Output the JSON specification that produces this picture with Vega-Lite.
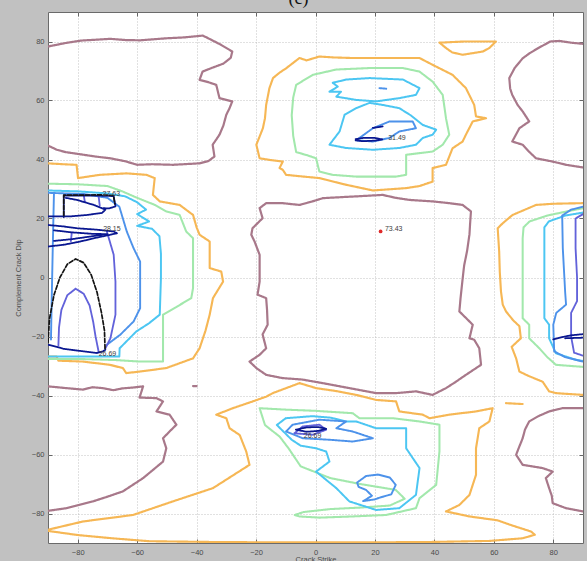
{
  "$schema": "https://vega.github.io/schema/vega-lite/v6.json",
  "width": 535,
  "height": 531,
  "autosize": {"type": "none"},
  "padding": {"left": 48, "top": 12, "right": 4, "bottom": 18},
  "background": "#c1c1c1",
  "title": {"text": "(c)", "font": "Liberation Serif", "fontSize": 18, "fontWeight": "normal", "color": "#111111", "offset": 4, "dx": -17, "anchor": "middle"},
  "config": {
    "view": {"fill": "white", "stroke": "#6a6a6a", "strokeWidth": 1},
    "axis": {
      "labelFont": "Liberation Sans",
      "labelFontSize": 7.5,
      "labelColor": "#4a4a4a",
      "titleFont": "Liberation Sans",
      "titleFontSize": 7.5,
      "titleFontWeight": "normal",
      "titleColor": "#4a4a4a",
      "tickColor": "#666666",
      "domain": false,
      "gridColor": "#b4b4b4",
      "gridDash": [1, 2],
      "gridWidth": 0.8
    }
  },
  "datasets": {
    "contours": [
      {"c":"M1","l":"m","x":-90,"y":78.3},{"c":"M1","l":"m","x":-84,"y":79.5},{"c":"M1","l":"m","x":-79,"y":80.3},{"c":"M1","l":"m","x":-69,"y":80.9},{"c":"M1","l":"m","x":-64,"y":80.5},{"c":"M1","l":"m","x":-59,"y":80.4},{"c":"M1","l":"m","x":-50,"y":81.1},{"c":"M1","l":"m","x":-44,"y":81.4},{"c":"M1","l":"m","x":-38,"y":82},{"c":"M1","l":"m","x":-36.5,"y":81.3},{"c":"M1","l":"m","x":-32,"y":79},{"c":"M1","l":"m","x":-28,"y":76.6},{"c":"M1","l":"m","x":-28.5,"y":74.5},{"c":"M1","l":"m","x":-31,"y":72.5},{"c":"M1","l":"m","x":-35,"y":71},{"c":"M1","l":"m","x":-38,"y":69.8},{"c":"M1","l":"m","x":-39,"y":67},{"c":"M1","l":"m","x":-36,"y":66.2},{"c":"M1","l":"m","x":-33.4,"y":65.3},{"c":"M1","l":"m","x":-32.3,"y":60.8},{"c":"M1","l":"m","x":-28,"y":59.7},{"c":"M1","l":"m","x":-29,"y":57.2},{"c":"M1","l":"m","x":-30,"y":55.2},{"c":"M1","l":"m","x":-31,"y":51.5},{"c":"M1","l":"m","x":-32.3,"y":48.4},{"c":"M1","l":"m","x":-34.6,"y":45},{"c":"M1","l":"m","x":-34,"y":41},{"c":"M1","l":"m","x":-36,"y":39.5},{"c":"M1","l":"m","x":-39,"y":38.7},{"c":"M1","l":"m","x":-48,"y":38.2},{"c":"M1","l":"m","x":-55,"y":38.4},{"c":"M1","l":"m","x":-60,"y":38.2},{"c":"M1","l":"m","x":-64,"y":39.4},{"c":"M1","l":"m","x":-69,"y":40.4},{"c":"M1","l":"m","x":-74,"y":41},{"c":"M1","l":"m","x":-78,"y":41.6},{"c":"M1","l":"m","x":-84,"y":42.5},{"c":"M1","l":"m","x":-87,"y":43.3},{"c":"M1","l":"m","x":-90,"y":44.7},

      {"c":"M2","l":"m","x":90,"y":79.2},{"c":"M2","l":"m","x":86,"y":79.6},{"c":"M2","l":"m","x":82,"y":80.2},{"c":"M2","l":"m","x":79,"y":80},{"c":"M2","l":"m","x":75,"y":77.8},{"c":"M2","l":"m","x":72,"y":76},{"c":"M2","l":"m","x":69.7,"y":74.3},{"c":"M2","l":"m","x":67,"y":71},{"c":"M2","l":"m","x":65.2,"y":67.6},{"c":"M2","l":"m","x":65.5,"y":64},{"c":"M2","l":"m","x":66.2,"y":61.9},{"c":"M2","l":"m","x":68,"y":58.5},{"c":"M2","l":"m","x":69.7,"y":56.3},{"c":"M2","l":"m","x":71.9,"y":52.9},{"c":"M2","l":"m","x":68.6,"y":50.6},{"c":"M2","l":"m","x":66.2,"y":46.1},{"c":"M2","l":"m","x":69.7,"y":45},{"c":"M2","l":"m","x":72,"y":42.5},{"c":"M2","l":"m","x":74.2,"y":40.4},{"c":"M2","l":"m","x":79.8,"y":39.3},{"c":"M2","l":"m","x":84.3,"y":38.2},{"c":"M2","l":"m","x":90,"y":37.3},

      {"c":"M3","l":"m","x":-18.8,"y":23.5},{"c":"M3","l":"m","x":-16.6,"y":25.2},{"c":"M3","l":"m","x":-11.1,"y":25.2},{"c":"M3","l":"m","x":-5.4,"y":24.6},{"c":"M3","l":"m","x":-1,"y":25.8},{"c":"M3","l":"m","x":2.5,"y":26.9},{"c":"M3","l":"m","x":8,"y":27.2},{"c":"M3","l":"m","x":13.7,"y":27.5},{"c":"M3","l":"m","x":22.6,"y":28},{"c":"M3","l":"m","x":27,"y":27},{"c":"M3","l":"m","x":31.6,"y":26.3},{"c":"M3","l":"m","x":39.4,"y":25.8},{"c":"M3","l":"m","x":45,"y":25.2},{"c":"M3","l":"m","x":49.5,"y":24.6},{"c":"M3","l":"m","x":52.3,"y":22.4},{"c":"M3","l":"m","x":52,"y":18},{"c":"M3","l":"m","x":51.8,"y":14.6},{"c":"M3","l":"m","x":51,"y":9},{"c":"M3","l":"m","x":50,"y":4},{"c":"M3","l":"m","x":49.4,"y":-1.4},{"c":"M3","l":"m","x":48.8,"y":-7},{"c":"M3","l":"m","x":48.4,"y":-11.5},{"c":"M3","l":"m","x":49.5,"y":-12.6},{"c":"M3","l":"m","x":52.9,"y":-16},{"c":"M3","l":"m","x":51.8,"y":-20.6},{"c":"M3","l":"m","x":53.4,"y":-21.1},{"c":"M3","l":"m","x":55.1,"y":-24},{"c":"M3","l":"m","x":55.7,"y":-29.6},{"c":"M3","l":"m","x":50.6,"y":-33},{"c":"M3","l":"m","x":47,"y":-35.5},{"c":"M3","l":"m","x":43.9,"y":-37.5},{"c":"M3","l":"m","x":39.4,"y":-39.8},{"c":"M3","l":"m","x":33.8,"y":-38.6},{"c":"M3","l":"m","x":27.1,"y":-39.2},{"c":"M3","l":"m","x":20.4,"y":-39.2},{"c":"M3","l":"m","x":11.4,"y":-37.5},{"c":"M3","l":"m","x":2.4,"y":-35.8},{"c":"M3","l":"m","x":-4.4,"y":-34.6},{"c":"M3","l":"m","x":-11.1,"y":-34.1},{"c":"M3","l":"m","x":-16.6,"y":-33},{"c":"M3","l":"m","x":-19.9,"y":-30.7},{"c":"M3","l":"m","x":-22.2,"y":-28.5},{"c":"M3","l":"m","x":-18.8,"y":-26.2},{"c":"M3","l":"m","x":-16.6,"y":-24},{"c":"M3","l":"m","x":-17.8,"y":-19.3},{"c":"M3","l":"m","x":-16.1,"y":-16},{"c":"M3","l":"m","x":-16.3,"y":-11},{"c":"M3","l":"m","x":-16.6,"y":-7},{"c":"M3","l":"m","x":-19.5,"y":-5.8},{"c":"M3","l":"m","x":-18.8,"y":-1.4},{"c":"M3","l":"m","x":-18.8,"y":3.2},{"c":"M3","l":"m","x":-18.8,"y":7.7},{"c":"M3","l":"m","x":-20.5,"y":12.2},{"c":"M3","l":"m","x":-21.6,"y":14.5},{"c":"M3","l":"m","x":-21.2,"y":16.7},{"c":"M3","l":"m","x":-17.8,"y":20.1},{"c":"M3","l":"m","x":-18.8,"y":23.5},

      {"c":"M4","l":"m","x":-90,"y":-36.9},{"c":"M4","l":"m","x":-83.8,"y":-37.5},{"c":"M4","l":"m","x":-78.3,"y":-38},{"c":"M4","l":"m","x":-75,"y":-37.2},{"c":"M4","l":"m","x":-71.6,"y":-37.5},{"c":"M4","l":"m","x":-68,"y":-38.2},{"c":"M4","l":"m","x":-65,"y":-37.6},{"c":"M4","l":"m","x":-61.4,"y":-37.3},{"c":"M4","l":"m","x":-58,"y":-36.9},{"c":"M4","l":"m","x":-59.2,"y":-40.7},{"c":"M4","l":"m","x":-53.5,"y":-40.9},{"c":"M4","l":"m","x":-51.3,"y":-42},{"c":"M4","l":"m","x":-53.5,"y":-45.4},{"c":"M4","l":"m","x":-49.1,"y":-46.5},{"c":"M4","l":"m","x":-46.8,"y":-49.9},{"c":"M4","l":"m","x":-49.1,"y":-52.2},{"c":"M4","l":"m","x":-51.3,"y":-54.5},{"c":"M4","l":"m","x":-50.2,"y":-57.9},{"c":"M4","l":"m","x":-51.3,"y":-62.4},{"c":"M4","l":"m","x":-55,"y":-65.5},{"c":"M4","l":"m","x":-58,"y":-68},{"c":"M4","l":"m","x":-64.8,"y":-72.5},{"c":"M4","l":"m","x":-70,"y":-74.3},{"c":"M4","l":"m","x":-74.9,"y":-75.9},{"c":"M4","l":"m","x":-83.8,"y":-78.2},{"c":"M4","l":"m","x":-90,"y":-79.1},

      {"c":"M5","l":"m","x":90,"y":-44.3},{"c":"M5","l":"m","x":83.1,"y":-44.3},{"c":"M5","l":"m","x":78.6,"y":-45.4},{"c":"M5","l":"m","x":75,"y":-47},{"c":"M5","l":"m","x":71.9,"y":-48.8},{"c":"M5","l":"m","x":70.5,"y":-51.5},{"c":"M5","l":"m","x":69.7,"y":-54.5},{"c":"M5","l":"m","x":68.5,"y":-57.5},{"c":"M5","l":"m","x":67.5,"y":-60.1},{"c":"M5","l":"m","x":69.7,"y":-63.5},{"c":"M5","l":"m","x":76.4,"y":-64.6},{"c":"M5","l":"m","x":79.8,"y":-65.8},{"c":"M5","l":"m","x":77.5,"y":-68},{"c":"M5","l":"m","x":78.6,"y":-71.4},{"c":"M5","l":"m","x":79.5,"y":-74},{"c":"M5","l":"m","x":79.8,"y":-76.5},{"c":"M5","l":"m","x":84.3,"y":-78.2},{"c":"M5","l":"m","x":90,"y":-79.3},

      {"c":"M6","l":"m","x":-41.2,"y":-36.8},{"c":"M6","l":"m","x":-40,"y":-36.8},

      {"c":"O1","l":"o","x":-14.3,"y":67.6},{"c":"O1","l":"o","x":-12,"y":69.5},{"c":"O1","l":"o","x":-9.9,"y":70.9},{"c":"O1","l":"o","x":-5.4,"y":74.4},{"c":"O1","l":"o","x":-3,"y":73.6},{"c":"O1","l":"o","x":1.3,"y":74.9},{"c":"O1","l":"o","x":6,"y":74.6},{"c":"O1","l":"o","x":12.5,"y":74.4},{"c":"O1","l":"o","x":23.8,"y":74.4},{"c":"O1","l":"o","x":35,"y":74.4},{"c":"O1","l":"o","x":39.4,"y":72.1},{"c":"O1","l":"o","x":46.1,"y":68.7},{"c":"O1","l":"o","x":50.6,"y":64.2},{"c":"O1","l":"o","x":53.4,"y":58.5},{"c":"O1","l":"o","x":54,"y":54.6},{"c":"O1","l":"o","x":57.4,"y":54},{"c":"O1","l":"o","x":52.9,"y":52.9},{"c":"O1","l":"o","x":50.6,"y":48.4},{"c":"O1","l":"o","x":49.5,"y":46.1},{"c":"O1","l":"o","x":46.1,"y":43.8},{"c":"O1","l":"o","x":45,"y":41},{"c":"O1","l":"o","x":43.9,"y":38.2},{"c":"O1","l":"o","x":39.4,"y":37.1},{"c":"O1","l":"o","x":39.4,"y":32.5},{"c":"O1","l":"o","x":35,"y":31},{"c":"O1","l":"o","x":30.5,"y":30.3},{"c":"O1","l":"o","x":19.3,"y":29.5},{"c":"O1","l":"o","x":10,"y":31.5},{"c":"O1","l":"o","x":1.3,"y":33.7},{"c":"O1","l":"o","x":-5,"y":34.3},{"c":"O1","l":"o","x":-9.9,"y":34.8},{"c":"O1","l":"o","x":-11,"y":36.5},{"c":"O1","l":"o","x":-12.1,"y":37.1},{"c":"O1","l":"o","x":-11,"y":39.3},{"c":"O1","l":"o","x":-15,"y":39.8},{"c":"O1","l":"o","x":-18.8,"y":40.4},{"c":"O1","l":"o","x":-19.9,"y":45},{"c":"O1","l":"o","x":-17.7,"y":50.6},{"c":"O1","l":"o","x":-17,"y":54},{"c":"O1","l":"o","x":-16.6,"y":58.5},{"c":"O1","l":"o","x":-15.5,"y":64.2},{"c":"O1","l":"o","x":-14.3,"y":67.6},

      {"c":"O2","l":"o","x":41.7,"y":79.6},{"c":"O2","l":"o","x":50,"y":80},{"c":"O2","l":"o","x":60.7,"y":80},{"c":"O2","l":"o","x":58.5,"y":77.8},{"c":"O2","l":"o","x":56.3,"y":76.6},{"c":"O2","l":"o","x":49.5,"y":75.5},{"c":"O2","l":"o","x":46,"y":76.3},{"c":"O2","l":"o","x":43.9,"y":77.8},{"c":"O2","l":"o","x":41.7,"y":79.6},

      {"c":"O3","l":"o","x":-90,"y":38.7},{"c":"O3","l":"o","x":-85,"y":38.4},{"c":"O3","l":"o","x":-80.4,"y":38.2},{"c":"O3","l":"o","x":-79.9,"y":33.7},{"c":"O3","l":"o","x":-72.6,"y":34.8},{"c":"O3","l":"o","x":-63.6,"y":35.3},{"c":"O3","l":"o","x":-56.9,"y":34.8},{"c":"O3","l":"o","x":-54.1,"y":33.7},{"c":"O3","l":"o","x":-54.7,"y":28},{"c":"O3","l":"o","x":-52.4,"y":25.8},{"c":"O3","l":"o","x":-45.7,"y":24.6},{"c":"O3","l":"o","x":-41.2,"y":21.2},{"c":"O3","l":"o","x":-40,"y":17},{"c":"O3","l":"o","x":-39,"y":14.5},{"c":"O3","l":"o","x":-35.6,"y":12.2},{"c":"O3","l":"o","x":-35.6,"y":3.2},{"c":"O3","l":"o","x":-31.7,"y":2},{"c":"O3","l":"o","x":-31.1,"y":-1.4},{"c":"O3","l":"o","x":-34.5,"y":-7},{"c":"O3","l":"o","x":-35.6,"y":-12.6},{"c":"O3","l":"o","x":-37,"y":-18},{"c":"O3","l":"o","x":-39,"y":-24},{"c":"O3","l":"o","x":-41.2,"y":-27.4},{"c":"O3","l":"o","x":-50.2,"y":-30.7},{"c":"O3","l":"o","x":-59.2,"y":-31.9},{"c":"O3","l":"o","x":-63.7,"y":-32.4},{"c":"O3","l":"o","x":-64.8,"y":-30.7},{"c":"O3","l":"o","x":-69.2,"y":-29.6},{"c":"O3","l":"o","x":-78.2,"y":-28.5},{"c":"O3","l":"o","x":-86.5,"y":-28.2},{"c":"O3","l":"o","x":-87.1,"y":-26.8},{"c":"O3","l":"o","x":-90,"y":-26.8},

      {"c":"O4","l":"o","x":-90,"y":-85.5},{"c":"O4","l":"o","x":-78.2,"y":-82.7},{"c":"O4","l":"o","x":-61.4,"y":-80.5},{"c":"O4","l":"o","x":-48,"y":-75.9},{"c":"O4","l":"o","x":-34.5,"y":-71.4},{"c":"O4","l":"o","x":-22.2,"y":-63.5},{"c":"O4","l":"o","x":-23.3,"y":-59},{"c":"O4","l":"o","x":-25.5,"y":-53.4},{"c":"O4","l":"o","x":-28.9,"y":-51.1},{"c":"O4","l":"o","x":-30,"y":-47.7},{"c":"O4","l":"o","x":-33.4,"y":-46.5},{"c":"O4","l":"o","x":-27.8,"y":-44.3},{"c":"O4","l":"o","x":-21.1,"y":-42},{"c":"O4","l":"o","x":-16.6,"y":-40.4},{"c":"O4","l":"o","x":-14.4,"y":-39.2},{"c":"O4","l":"o","x":-9.9,"y":-37.5},{"c":"O4","l":"o","x":-5.4,"y":-35.8},{"c":"O4","l":"o","x":0.2,"y":-37.5},{"c":"O4","l":"o","x":7,"y":-38.5},{"c":"O4","l":"o","x":13.7,"y":-39.8},{"c":"O4","l":"o","x":20.4,"y":-41.5},{"c":"O4","l":"o","x":27.1,"y":-42},{"c":"O4","l":"o","x":28.2,"y":-45.4},{"c":"O4","l":"o","x":36.1,"y":-46.5},{"c":"O4","l":"o","x":38.4,"y":-47.7},{"c":"O4","l":"o","x":45,"y":-46.5},{"c":"O4","l":"o","x":54,"y":-45.4},{"c":"O4","l":"o","x":59.6,"y":-44.3},{"c":"O4","l":"o","x":58.5,"y":-48.8},{"c":"O4","l":"o","x":55.1,"y":-51.1},{"c":"O4","l":"o","x":54,"y":-57.9},{"c":"O4","l":"o","x":54,"y":-66.9},{"c":"O4","l":"o","x":51.8,"y":-73.7},{"c":"O4","l":"o","x":48.4,"y":-77.1},{"c":"O4","l":"o","x":43.9,"y":-79.3},{"c":"O4","l":"o","x":51.8,"y":-81},{"c":"O4","l":"o","x":61.2,"y":-82.3},{"c":"O4","l":"o","x":66,"y":-84},{"c":"O4","l":"o","x":72.5,"y":-86.1},{"c":"O4","l":"o","x":73.8,"y":-87.2},{"c":"O4","l":"o","x":69.7,"y":-88.4},{"c":"O4","l":"o","x":58.5,"y":-89.3},{"c":"O4","l":"o","x":36,"y":-89.7},{"c":"O4","l":"o","x":0,"y":-89.8},{"c":"O4","l":"o","x":-30.7,"y":-89.7},{"c":"O4","l":"o","x":-55.9,"y":-89.4},{"c":"O4","l":"o","x":-68.4,"y":-88.4},{"c":"O4","l":"o","x":-80,"y":-87.3},{"c":"O4","l":"o","x":-90,"y":-85.9},

      {"c":"O5","l":"o","x":90,"y":25.2},{"c":"O5","l":"o","x":80,"y":25},{"c":"O5","l":"o","x":74.2,"y":24.6},{"c":"O5","l":"o","x":66.3,"y":21.2},{"c":"O5","l":"o","x":63,"y":18.4},{"c":"O5","l":"o","x":61.3,"y":16.7},{"c":"O5","l":"o","x":61.8,"y":8.8},{"c":"O5","l":"o","x":62,"y":2},{"c":"O5","l":"o","x":62.4,"y":-4.7},{"c":"O5","l":"o","x":63,"y":-9.2},{"c":"O5","l":"o","x":64.1,"y":-11.5},{"c":"O5","l":"o","x":66.5,"y":-14.5},{"c":"O5","l":"o","x":68.6,"y":-16.5},{"c":"O5","l":"o","x":69.1,"y":-20.6},{"c":"O5","l":"o","x":66,"y":-23.5},{"c":"O5","l":"o","x":67.5,"y":-27.4},{"c":"O5","l":"o","x":68.6,"y":-31.9},{"c":"O5","l":"o","x":72,"y":-33.5},{"c":"O5","l":"o","x":76.4,"y":-35.3},{"c":"O5","l":"o","x":78.6,"y":-38.6},{"c":"O5","l":"o","x":80.9,"y":-39.2},{"c":"O5","l":"o","x":90,"y":-39.8},

      {"c":"O6","l":"o","x":64.1,"y":-42.6},{"c":"O6","l":"o","x":69.7,"y":-42.9},

      {"c":"G1","l":"g","x":-6.5,"y":65.3},{"c":"G1","l":"g","x":-0.9,"y":68.7},{"c":"G1","l":"g","x":7,"y":70.5},{"c":"G1","l":"g","x":18.2,"y":71},{"c":"G1","l":"g","x":29.4,"y":71},{"c":"G1","l":"g","x":35,"y":69.8},{"c":"G1","l":"g","x":39.4,"y":66.4},{"c":"G1","l":"g","x":42.8,"y":61.9},{"c":"G1","l":"g","x":43.9,"y":54},{"c":"G1","l":"g","x":45,"y":48.4},{"c":"G1","l":"g","x":42.8,"y":45},{"c":"G1","l":"g","x":39.4,"y":42.7},{"c":"G1","l":"g","x":30.5,"y":41.6},{"c":"G1","l":"g","x":30.5,"y":34.8},{"c":"G1","l":"g","x":27.1,"y":34.2},{"c":"G1","l":"g","x":13.7,"y":34.2},{"c":"G1","l":"g","x":5.8,"y":34.8},{"c":"G1","l":"g","x":1.3,"y":35.9},{"c":"G1","l":"g","x":0.2,"y":40.4},{"c":"G1","l":"g","x":-3,"y":41.5},{"c":"G1","l":"g","x":-6.5,"y":42.5},{"c":"G1","l":"g","x":-7.5,"y":48},{"c":"G1","l":"g","x":-8,"y":55},{"c":"G1","l":"g","x":-7.5,"y":61},{"c":"G1","l":"g","x":-6.5,"y":65.3},

      {"c":"G2","l":"g","x":-90,"y":31.8},{"c":"G2","l":"g","x":-80,"y":31.6},{"c":"G2","l":"g","x":-70,"y":31},{"c":"G2","l":"g","x":-65,"y":29.2},{"c":"G2","l":"g","x":-60,"y":27},{"c":"G2","l":"g","x":-54,"y":24.6},{"c":"G2","l":"g","x":-50.2,"y":22.4},{"c":"G2","l":"g","x":-45.7,"y":21.2},{"c":"G2","l":"g","x":-43.5,"y":15.6},{"c":"G2","l":"g","x":-41.2,"y":13.3},{"c":"G2","l":"g","x":-41.2,"y":5},{"c":"G2","l":"g","x":-41.2,"y":-3.6},{"c":"G2","l":"g","x":-41.8,"y":-7},{"c":"G2","l":"g","x":-46,"y":-9.5},{"c":"G2","l":"g","x":-51.3,"y":-12.6},{"c":"G2","l":"g","x":-51.3,"y":-20},{"c":"G2","l":"g","x":-51.3,"y":-28.5},{"c":"G2","l":"g","x":-59,"y":-28.5},{"c":"G2","l":"g","x":-67,"y":-28},{"c":"G2","l":"g","x":-80,"y":-27.6},{"c":"G2","l":"g","x":-90,"y":-27.6},

      {"c":"G3","l":"g","x":-18.8,"y":-44.3},{"c":"G3","l":"g","x":-9.9,"y":-44.8},{"c":"G3","l":"g","x":0,"y":-45.2},{"c":"G3","l":"g","x":12.5,"y":-46},{"c":"G3","l":"g","x":14.8,"y":-47.7},{"c":"G3","l":"g","x":26,"y":-47.7},{"c":"G3","l":"g","x":35,"y":-48.8},{"c":"G3","l":"g","x":41.7,"y":-49.9},{"c":"G3","l":"g","x":41.7,"y":-59},{"c":"G3","l":"g","x":40.6,"y":-70.3},{"c":"G3","l":"g","x":35,"y":-74.8},{"c":"G3","l":"g","x":33.8,"y":-78.2},{"c":"G3","l":"g","x":23.8,"y":-80.5},{"c":"G3","l":"g","x":12.5,"y":-81},{"c":"G3","l":"g","x":1.3,"y":-81.4},{"c":"G3","l":"g","x":-5.4,"y":-81},{"c":"G3","l":"g","x":-7,"y":-80.5},{"c":"G3","l":"g","x":-4,"y":-79.5},{"c":"G3","l":"g","x":5,"y":-78.5},{"c":"G3","l":"g","x":15,"y":-78},{"c":"G3","l":"g","x":25,"y":-77.3},{"c":"G3","l":"g","x":30,"y":-75},{"c":"G3","l":"g","x":27,"y":-72},{"c":"G3","l":"g","x":15,"y":-70},{"c":"G3","l":"g","x":5,"y":-68},{"c":"G3","l":"g","x":-5,"y":-64},{"c":"G3","l":"g","x":-9,"y":-58},{"c":"G3","l":"g","x":-12,"y":-54},{"c":"G3","l":"g","x":-17,"y":-50},{"c":"G3","l":"g","x":-18.8,"y":-44.3},

      {"c":"G4","l":"g","x":90,"y":23.5},{"c":"G4","l":"g","x":85,"y":22.5},{"c":"G4","l":"g","x":78,"y":21},{"c":"G4","l":"g","x":72,"y":19},{"c":"G4","l":"g","x":70,"y":17},{"c":"G4","l":"g","x":69.7,"y":13.3},{"c":"G4","l":"g","x":69.7,"y":0},{"c":"G4","l":"g","x":69.7,"y":-13.8},{"c":"G4","l":"g","x":71.9,"y":-16},{"c":"G4","l":"g","x":71.9,"y":-20.6},{"c":"G4","l":"g","x":75.3,"y":-24},{"c":"G4","l":"g","x":78,"y":-27},{"c":"G4","l":"g","x":80.9,"y":-29.6},{"c":"G4","l":"g","x":90,"y":-30.3},

      {"c":"C1","l":"c","x":5.8,"y":66},{"c":"C1","l":"c","x":10.3,"y":67.1},{"c":"C1","l":"c","x":18.2,"y":67.6},{"c":"C1","l":"c","x":29.4,"y":67.1},{"c":"C1","l":"c","x":35,"y":64.2},{"c":"C1","l":"c","x":33.8,"y":61.9},{"c":"C1","l":"c","x":28.2,"y":60.8},{"c":"C1","l":"c","x":20.4,"y":59.7},{"c":"C1","l":"c","x":13.7,"y":60.2},{"c":"C1","l":"c","x":7,"y":61.3},{"c":"C1","l":"c","x":8.6,"y":63},{"c":"C1","l":"c","x":4.7,"y":63},{"c":"C1","l":"c","x":7.5,"y":64.7},{"c":"C1","l":"c","x":5.8,"y":66},

      {"c":"C2","l":"c","x":-90,"y":29.5},{"c":"C2","l":"c","x":-80,"y":29.2},{"c":"C2","l":"c","x":-70,"y":28.5},{"c":"C2","l":"c","x":-64,"y":27.5},{"c":"C2","l":"c","x":-60,"y":25.5},{"c":"C2","l":"c","x":-57,"y":23},{"c":"C2","l":"c","x":-60,"y":21.5},{"c":"C2","l":"c","x":-56,"y":19},{"c":"C2","l":"c","x":-60,"y":17.5},{"c":"C2","l":"c","x":-55,"y":16.5},{"c":"C2","l":"c","x":-52.5,"y":14},{"c":"C2","l":"c","x":-52,"y":8},{"c":"C2","l":"c","x":-52,"y":0},{"c":"C2","l":"c","x":-52.4,"y":-12.6},{"c":"C2","l":"c","x":-56,"y":-15.5},{"c":"C2","l":"c","x":-60.3,"y":-18.3},{"c":"C2","l":"c","x":-65.9,"y":-24},{"c":"C2","l":"c","x":-66,"y":-26.8},{"c":"C2","l":"c","x":-78,"y":-26.8},{"c":"C2","l":"c","x":-90,"y":-26.8},

      {"c":"C3","l":"c","x":4.7,"y":45},{"c":"C3","l":"c","x":8.1,"y":49.5},{"c":"C3","l":"c","x":9.8,"y":55.2},{"c":"C3","l":"c","x":13.7,"y":57.4},{"c":"C3","l":"c","x":18.2,"y":59.2},{"c":"C3","l":"c","x":22.6,"y":58.5},{"c":"C3","l":"c","x":28.2,"y":57.4},{"c":"C3","l":"c","x":32,"y":55},{"c":"C3","l":"c","x":36.1,"y":51.7},{"c":"C3","l":"c","x":40.6,"y":50.1},{"c":"C3","l":"c","x":39.4,"y":48.4},{"c":"C3","l":"c","x":36.1,"y":47.3},{"c":"C3","l":"c","x":33.8,"y":45},{"c":"C3","l":"c","x":28.2,"y":43.9},{"c":"C3","l":"c","x":19.3,"y":43.3},{"c":"C3","l":"c","x":10.3,"y":43.9},{"c":"C3","l":"c","x":4.7,"y":45},

      {"c":"C4","l":"c","x":-13,"y":-50},{"c":"C4","l":"c","x":-10,"y":-47.7},{"c":"C4","l":"c","x":-1,"y":-47},{"c":"C4","l":"c","x":5,"y":-47.5},{"c":"C4","l":"c","x":10.3,"y":-48.8},{"c":"C4","l":"c","x":13.7,"y":-48.8},{"c":"C4","l":"c","x":20.4,"y":-51.1},{"c":"C4","l":"c","x":30.5,"y":-51.1},{"c":"C4","l":"c","x":30.5,"y":-57.9},{"c":"C4","l":"c","x":35,"y":-64.6},{"c":"C4","l":"c","x":33.8,"y":-73.7},{"c":"C4","l":"c","x":28.2,"y":-78.2},{"c":"C4","l":"c","x":20.4,"y":-78.8},{"c":"C4","l":"c","x":11.4,"y":-75.9},{"c":"C4","l":"c","x":7,"y":-71.4},{"c":"C4","l":"c","x":0.2,"y":-65.8},{"c":"C4","l":"c","x":4.7,"y":-62.4},{"c":"C4","l":"c","x":3.6,"y":-59},{"c":"C4","l":"c","x":0.2,"y":-57.9},{"c":"C4","l":"c","x":-5,"y":-57},{"c":"C4","l":"c","x":-8,"y":-55},{"c":"C4","l":"c","x":-13,"y":-50},

      {"c":"C5","l":"c","x":90,"y":22},{"c":"C5","l":"c","x":84,"y":21},{"c":"C5","l":"c","x":78.5,"y":19},{"c":"C5","l":"c","x":77,"y":17},{"c":"C5","l":"c","x":77,"y":5},{"c":"C5","l":"c","x":77,"y":-13.8},{"c":"C5","l":"c","x":78.6,"y":-16},{"c":"C5","l":"c","x":78.6,"y":-20.6},{"c":"C5","l":"c","x":80.9,"y":-25.7},{"c":"C5","l":"c","x":87.6,"y":-27.9},{"c":"C5","l":"c","x":90,"y":-28.3},

      {"c":"B1","l":"b","x":13.7,"y":46.5},{"c":"B1","l":"b","x":19.3,"y":50.6},{"c":"B1","l":"b","x":24.9,"y":52.9},{"c":"B1","l":"b","x":32.7,"y":52.9},{"c":"B1","l":"b","x":33.8,"y":50.6},{"c":"B1","l":"b","x":28.2,"y":49.5},{"c":"B1","l":"b","x":24.9,"y":47.3},{"c":"B1","l":"b","x":19.3,"y":46.1},{"c":"B1","l":"b","x":13.7,"y":46.5},

      {"c":"B2","l":"b","x":-9.9,"y":-52.2},{"c":"B2","l":"b","x":-7.7,"y":-49.9},{"c":"B2","l":"b","x":1.3,"y":-48.2},{"c":"B2","l":"b","x":10.3,"y":-48.8},{"c":"B2","l":"b","x":7,"y":-51.1},{"c":"B2","l":"b","x":12.5,"y":-52.2},{"c":"B2","l":"b","x":19.3,"y":-54.5},{"c":"B2","l":"b","x":12.5,"y":-55.6},{"c":"B2","l":"b","x":4.7,"y":-55},{"c":"B2","l":"b","x":-4.3,"y":-54.5},{"c":"B2","l":"b","x":-9.9,"y":-52.2},

      {"c":"B3","l":"b","x":-90,"y":28.7},{"c":"B3","l":"b","x":-78,"y":28.3},{"c":"B3","l":"b","x":-70,"y":27},{"c":"B3","l":"b","x":-66,"y":24},{"c":"B3","l":"b","x":-63.5,"y":15.6},{"c":"B3","l":"b","x":-61.2,"y":9.9},{"c":"B3","l":"b","x":-59,"y":5.4},{"c":"B3","l":"b","x":-59,"y":-10.4},{"c":"B3","l":"b","x":-61.2,"y":-14.9},{"c":"B3","l":"b","x":-65.7,"y":-19.4},{"c":"B3","l":"b","x":-70.2,"y":-22.8},

      {"c":"B4","l":"b","x":90,"y":24},{"c":"B4","l":"b","x":86,"y":23},{"c":"B4","l":"b","x":83,"y":21},{"c":"B4","l":"b","x":83.2,"y":10},{"c":"B4","l":"b","x":84,"y":-5},{"c":"B4","l":"b","x":84.3,"y":-9.2},{"c":"B4","l":"b","x":81,"y":-12},{"c":"B4","l":"b","x":80,"y":-16},{"c":"B4","l":"b","x":80.3,"y":-25},{"c":"B4","l":"b","x":84,"y":-27},{"c":"B4","l":"b","x":90,"y":-28.5},

      {"c":"B5","l":"b","x":14,"y":-69.5},{"c":"B5","l":"b","x":17,"y":-67.3},{"c":"B5","l":"b","x":21,"y":-66.8},{"c":"B5","l":"b","x":25,"y":-67.8},{"c":"B5","l":"b","x":27,"y":-70.3},{"c":"B5","l":"b","x":25.5,"y":-73.5},{"c":"B5","l":"b","x":22,"y":-74.5},{"c":"B5","l":"b","x":20,"y":-75.2},{"c":"B5","l":"b","x":16,"y":-75.8},{"c":"B5","l":"b","x":19,"y":-74},{"c":"B5","l":"b","x":17,"y":-72},{"c":"B5","l":"b","x":14.5,"y":-71},{"c":"B5","l":"b","x":14,"y":-69.5},

      {"c":"B6","l":"b","x":21.5,"y":64.2},{"c":"B6","l":"b","x":23.8,"y":64},

      {"c":"B7","l":"b","x":-88,"y":28.3},{"c":"B7","l":"b","x":-88.4,"y":10},{"c":"B7","l":"b","x":-88.8,"y":-10},{"c":"B7","l":"b","x":-89,"y":-21},

      {"c":"P1","l":"p","x":-70.2,"y":15.6},{"c":"P1","l":"p","x":-67.9,"y":7.7},{"c":"P1","l":"p","x":-67.3,"y":-1.4},{"c":"P1","l":"p","x":-67.3,"y":-12.6},{"c":"P1","l":"p","x":-69,"y":-20.6},{"c":"P1","l":"p","x":-70.7,"y":-24},

      {"c":"P2","l":"p","x":-86.5,"y":-23},{"c":"P2","l":"p","x":-86.3,"y":-17},{"c":"P2","l":"p","x":-85.5,"y":-11},{"c":"P2","l":"p","x":-83.5,"y":-6},{"c":"P2","l":"p","x":-80.7,"y":-3.8},{"c":"P2","l":"p","x":-78,"y":-5.5},{"c":"P2","l":"p","x":-76,"y":-9.5},{"c":"P2","l":"p","x":-74.8,"y":-15},{"c":"P2","l":"p","x":-74,"y":-20},{"c":"P2","l":"p","x":-73,"y":-25},

      {"c":"P3","l":"p","x":-7.1,"y":-52.8},{"c":"P3","l":"p","x":-4.3,"y":-50.5},{"c":"P3","l":"p","x":1.3,"y":-49.9},{"c":"P3","l":"p","x":3.6,"y":-51.6},{"c":"P3","l":"p","x":-0.9,"y":-53.3},{"c":"P3","l":"p","x":-7.1,"y":-52.8},

      {"c":"P4","l":"p","x":90,"y":21.5},{"c":"P4","l":"p","x":87.5,"y":20},{"c":"P4","l":"p","x":87.5,"y":10},{"c":"P4","l":"p","x":88,"y":0},{"c":"P4","l":"p","x":88,"y":-8},{"c":"P4","l":"p","x":86,"y":-12},{"c":"P4","l":"p","x":86,"y":-20},{"c":"P4","l":"p","x":87,"y":-25.5},{"c":"P4","l":"p","x":90,"y":-26.5},

      {"c":"P5","l":"p","x":-78,"y":28.1},{"c":"P5","l":"p","x":-77.6,"y":25.6},
      {"c":"P6","l":"p","x":-73,"y":27.8},{"c":"P6","l":"p","x":-72.6,"y":24.4},
      {"c":"P7","l":"p","x":-82,"y":15.2},{"c":"P7","l":"p","x":-82.3,"y":12.3},

      {"c":"N1","l":"n","x":-84.7,"y":20.5},{"c":"N1","l":"n","x":-84.7,"y":24},{"c":"N1","l":"n","x":-84.7,"y":27.8},{"c":"N1","l":"n","x":-75,"y":27.8},{"c":"N1","l":"n","x":-67.9,"y":27.6},{"c":"N1","l":"n","x":-67.3,"y":24.1},{"c":"N1","l":"n","x":-69.5,"y":23.4},{"c":"N1","l":"n","x":-71.3,"y":23.5},

      {"c":"N2","l":"n","x":-84,"y":27},{"c":"N2","l":"n","x":-80.3,"y":26.3},{"c":"N2","l":"n","x":-74.6,"y":24.6},{"c":"N2","l":"n","x":-70.7,"y":23},{"c":"N2","l":"n","x":-71.8,"y":21.9},{"c":"N2","l":"n","x":-76.9,"y":21.2},{"c":"N2","l":"n","x":-82.6,"y":20.7},{"c":"N2","l":"n","x":-90,"y":20.7},

      {"c":"N3","l":"n","x":-90,"y":17.8},{"c":"N3","l":"n","x":-84.7,"y":17.3},{"c":"N3","l":"n","x":-80.3,"y":16.7},{"c":"N3","l":"n","x":-73.5,"y":16.2},{"c":"N3","l":"n","x":-67.9,"y":15.6},{"c":"N3","l":"n","x":-66.8,"y":15},{"c":"N3","l":"n","x":-69,"y":14.5},{"c":"N3","l":"n","x":-74.6,"y":13.3},{"c":"N3","l":"n","x":-79.1,"y":12.2},{"c":"N3","l":"n","x":-84.7,"y":11.1},{"c":"N3","l":"n","x":-90,"y":10.5},

      {"c":"N4","l":"n","x":-88,"y":16},{"c":"N4","l":"n","x":-82,"y":15.3},{"c":"N4","l":"n","x":-75,"y":14.8},{"c":"N4","l":"n","x":-70,"y":14.7},{"c":"N4","l":"n","x":-75,"y":14},{"c":"N4","l":"n","x":-82,"y":13},{"c":"N4","l":"n","x":-88,"y":12.4},

      {"c":"N5","l":"n","x":-90,"y":-22.8},{"c":"N5","l":"n","x":-87,"y":-23.5},{"c":"N5","l":"n","x":-84.7,"y":-24.2},{"c":"N5","l":"n","x":-80,"y":-24.8},{"c":"N5","l":"n","x":-73.5,"y":-25.6},{"c":"N5","l":"n","x":-71.5,"y":-25},{"c":"N5","l":"n","x":-70.7,"y":-24.5},

      {"c":"N6","l":"n","x":13.5,"y":46.5},{"c":"N6","l":"n","x":16,"y":46.2},{"c":"N6","l":"n","x":20,"y":46.4},{"c":"N6","l":"n","x":22.5,"y":46.8},{"c":"N6","l":"n","x":20,"y":47.3},{"c":"N6","l":"n","x":16,"y":47.3},{"c":"N6","l":"n","x":13.5,"y":46.9},

      {"c":"N7","l":"n","x":19.3,"y":50.7},{"c":"N7","l":"n","x":22.6,"y":51.2},

      {"c":"N8","l":"n","x":-6.6,"y":-51.6},{"c":"N8","l":"n","x":-3,"y":-50.8},{"c":"N8","l":"n","x":1,"y":-50.7},{"c":"N8","l":"n","x":3.6,"y":-51.3},{"c":"N8","l":"n","x":1,"y":-52},{"c":"N8","l":"n","x":-3,"y":-52.3},{"c":"N8","l":"n","x":-6.6,"y":-51.6},

      {"c":"N9","l":"n","x":80,"y":-21},{"c":"N9","l":"n","x":83,"y":-20.2},{"c":"N9","l":"n","x":86,"y":-19.6},{"c":"N9","l":"n","x":90,"y":-19.2},
      {"c":"N10","l":"n","x":84,"y":-20.6},{"c":"N10","l":"n","x":90,"y":-20.4},

      {"c":"K1","l":"k","x":-84.7,"y":21},{"c":"K1","l":"k","x":-84.7,"y":27.9},{"c":"K1","l":"k","x":-72,"y":28},{"c":"K1","l":"k","x":-68,"y":27.8},{"c":"K1","l":"k","x":-67.5,"y":25},

      {"c":"K2","l":"k","x":-90,"y":-22},{"c":"K2","l":"k","x":-89.5,"y":-14},{"c":"K2","l":"k","x":-88,"y":-6},{"c":"K2","l":"k","x":-86,"y":0},{"c":"K2","l":"k","x":-83.5,"y":4.5},{"c":"K2","l":"k","x":-80.7,"y":6.3},{"c":"K2","l":"k","x":-78,"y":5},{"c":"K2","l":"k","x":-75.5,"y":1},{"c":"K2","l":"k","x":-73.5,"y":-5},{"c":"K2","l":"k","x":-72,"y":-12},{"c":"K2","l":"k","x":-71,"y":-18},{"c":"K2","l":"k","x":-70.8,"y":-24.5}
    ],
    "labels": [
      {"x": -68.7, "y": 28.3, "t": "27.63"},
      {"x": -68.5, "y": 16.6, "t": "28.15"},
      {"x": -70, "y": -25.8, "t": "26.69"},
      {"x": 27.4, "y": 47.2, "t": "31.49"},
      {"x": -1, "y": -53.8, "t": "26.69"},
      {"x": 26.3, "y": 16.3, "t": "73.43"}
    ],
    "peak": [
      {"x": 21.9, "y": 15.6}
    ]
  },
  "layer": [
    {
      "data": {"name": "contours"},
      "mark": {"type": "line", "clip": true, "strokeJoin": "round", "strokeCap": "round"},
      "encoding": {
        "x": {
          "field": "x", "type": "quantitative",
          "scale": {"domain": [-90, 90], "nice": false, "zero": false},
          "axis": {
            "orient": "bottom", "title": "Crack Strike",
            "values": [-80, -60, -40, -20, 0, 20, 40, 60, 80],
            "grid": true, "tickSize": -4, "labelPadding": 9, "titlePadding": 0
          }
        },
        "y": {
          "field": "y", "type": "quantitative",
          "scale": {"domain": [-90, 90], "nice": false, "zero": false},
          "axis": {
            "orient": "left", "title": "Complement Crack Dip",
            "values": [-80, -60, -40, -20, 0, 20, 40, 60, 80],
            "grid": true, "tickSize": -4, "labelPadding": 8, "titlePadding": 9
          }
        },
        "detail": {"field": "c"},
        "order": {"value": null},
        "color": {
          "field": "l", "type": "nominal", "legend": null,
          "scale": {
            "domain": ["k", "n", "p", "b", "c", "g", "o", "m"],
            "range": ["#141414", "#0a1790", "#6262da", "#4d92ea", "#4cc6f2", "#a2e8ac", "#f6b755", "#a8788a"]
          }
        },
        "strokeWidth": {
          "field": "l", "type": "nominal", "legend": null,
          "scale": {
            "domain": ["k", "n", "p", "b", "c", "g", "o", "m"],
            "range": [1.7, 2.2, 1, 1, 1, 1, 1.1, 1.1]
          }
        },
        "strokeDash": {
          "field": "l", "type": "nominal", "legend": null,
          "scale": {
            "domain": ["k", "n", "p", "b", "c", "g", "o", "m"],
            "range": [[4, 2], [1, 0], [1, 0], [1, 0], [1, 0], [1, 0], [1, 0], [1, 0]]
          }
        }
      }
    },
    {
      "data": {"name": "peak"},
      "mark": {"type": "point", "filled": true, "color": "#e02a2a", "size": 14, "opacity": 1},
      "encoding": {
        "x": {
          "field": "x", "type": "quantitative",
          "scale": {"domain": [-90, 90], "nice": false, "zero": false},
          "axis": {
            "orient": "top", "title": null, "labels": false, "grid": false,
            "values": [-80, -60, -40, -20, 0, 20, 40, 60, 80], "tickSize": -4
          }
        },
        "y": {
          "field": "y", "type": "quantitative",
          "scale": {"domain": [-90, 90], "nice": false, "zero": false},
          "axis": {
            "orient": "right", "title": null, "labels": false, "grid": false,
            "values": [-80, -60, -40, -20, 0, 20, 40, 60, 80], "tickSize": -4
          }
        }
      }
    },
    {
      "data": {"name": "labels"},
      "mark": {"type": "text", "font": "Liberation Sans", "fontSize": 7, "color": "#3c3c3c", "align": "center", "baseline": "middle"},
      "encoding": {
        "x": {"field": "x", "type": "quantitative", "axis": null},
        "y": {"field": "y", "type": "quantitative", "axis": null},
        "text": {"field": "t"}
      }
    }
  ],
  "resolve": {"axis": {"x": "independent", "y": "independent"}}
}
